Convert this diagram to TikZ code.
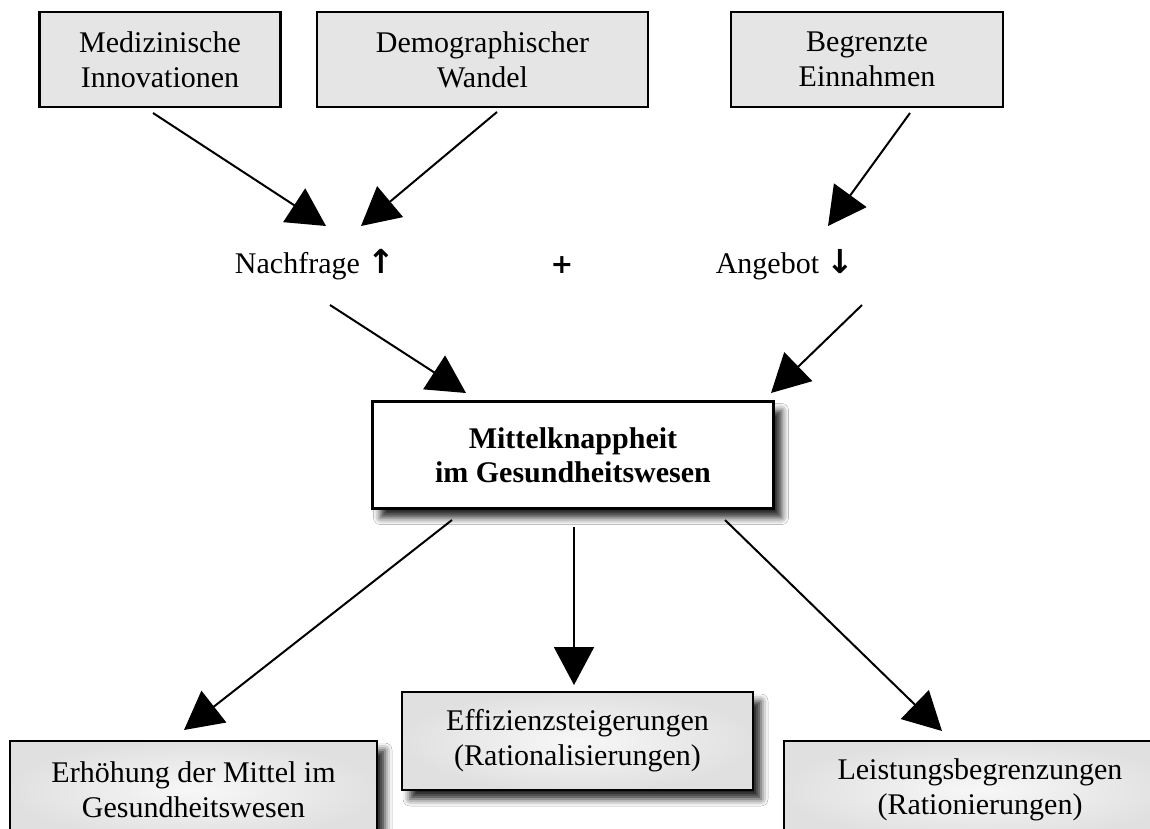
\documentclass[tikz,border=0pt]{standalone}
\usepackage{fontspec}
\setmainfont{Liberation Serif}
\newfontfamily\arrowfont{DejaVu Sans}
\usetikzlibrary{arrows.meta,shadows.blur}
\begin{document}
\begin{tikzpicture}[x=1pt,y=-1pt,
  every node/.style={font=\fontsize{30}{35}\selectfont, align=center, inner sep=0pt},
  symb/.style={font=\arrowfont\bfseries\fontsize{27}{30}\selectfont},
  topbox/.style={draw=black, line width=2.4pt, fill=gray!20},
  midbox/.style={draw=black, line width=2.6pt, fill=white, font=\fontsize{30}{34}\selectfont\bfseries,
    blur shadow={shadow xshift=8pt, shadow yshift=-9pt, shadow blur radius=7pt, shadow opacity=85}},
  botbox/.style={draw=black, line width=2.4pt, inner color=gray!6, outer color=gray!24,
    blur shadow={shadow xshift=8pt, shadow yshift=-9pt, shadow blur radius=7pt, shadow opacity=85}},
  conn/.style={line width=2pt, -{Triangle[length=38pt,width=40pt]}}
]
\useasboundingbox (0,0) rectangle (1150,829);
\clip (0,0) rectangle (1150,829);
\fill[white] (0,0) rectangle (1150,829);

% top boxes
\node[topbox, minimum width=241pt, minimum height=95pt] (med) at (160,59.5) {Medizinische\\Innovationen};
\node[topbox, minimum width=331pt, minimum height=95pt] (dem) at (482.5,59.5) {Demographischer\\Wandel};
\node[topbox, minimum width=272pt, minimum height=95pt] (beg) at (867,59.5) {Begrenzte\\Einnahmen};

% middle labels
\node (nach) at (315,265) {Nachfrage {\arrowfont\bfseries\fontsize{33}{30}\selectfont ↑}};
\node[symb] (plus) at (562,265) {+};
\node (ang) at (785,265) {Angebot {\arrowfont\bfseries\fontsize{33}{30}\selectfont ↓}};

% central box
\node[midbox, minimum width=401pt, minimum height=107pt] (mk) at (573,455) {Mittelknappheit\\im Gesundheitswesen};

% bottom boxes
\node[botbox, minimum width=367pt, minimum height=98pt] (erh) at (193.5,790) {Erhöhung der Mittel im\\Gesundheitswesen};
\node[botbox, minimum width=351pt, minimum height=98pt] (eff) at (577.5,741) {Effizienzsteigerungen\\(Rationalisierungen)};
\node[botbox, minimum width=392pt, minimum height=98pt] (lei) at (980,790) {Leistungsbegrenzungen\\(Rationierungen)};

% connector end points
\coordinate (a1s) at (153,113);  \coordinate (a1e) at (326,226);
\coordinate (a2s) at (497,112);  \coordinate (a2e) at (361,226);
\coordinate (a3s) at (910,113);  \coordinate (a3e) at (828,226);
\coordinate (b1s) at (330,305);  \coordinate (b1e) at (466,393);
\coordinate (b2s) at (862,305);  \coordinate (b2e) at (771,393);
\coordinate (c1s) at (452,520);  \coordinate (c1e) at (184,730);
\coordinate (c2s) at (574,527);  \coordinate (c2e) at (574,685);
\coordinate (c3s) at (725,520);  \coordinate (c3e) at (942,731);

\draw[conn] (a1s) -- (a1e);
\draw[conn] (a2s) -- (a2e);
\draw[conn] (a3s) -- (a3e);
\draw[conn] (b1s) -- (b1e);
\draw[conn] (b2s) -- (b2e);
\draw[conn] (c1s) -- (c1e);
\draw[conn] (c2s) -- (c2e);
\draw[conn] (c3s) -- (c3e);
\end{tikzpicture}
\end{document}
